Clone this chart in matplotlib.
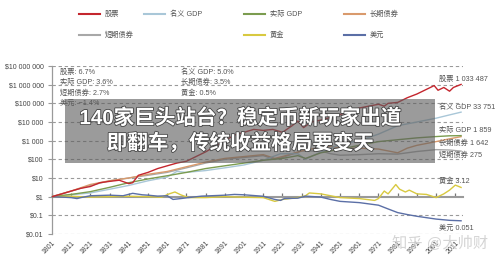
import matplotlib
matplotlib.use("Agg")
import matplotlib.pyplot as plt
import matplotlib.patheffects as pe
from matplotlib.lines import Line2D
from matplotlib.patches import Rectangle

plt.rcParams['font.family'] = ['Liberation Sans', 'Noto Sans CJK SC']

stocks_years = [1801, 1806, 1811, 1816, 1821, 1826, 1831, 1836, 1841, 1843, 1846, 1851, 1856, 1861, 1866,
                1871, 1876, 1881, 1886, 1891, 1896, 1901, 1906, 1911, 1916, 1921, 1926, 1929, 1932, 1936,
                1941, 1946, 1951, 1956, 1961, 1966, 1971, 1974, 1976, 1981, 1986, 1991, 1996, 2000, 2002,
                2005, 2008, 2010, 2014]
stocks = [1, 1.4, 2.0, 2.8, 3.5, 5.6, 6.6, 7.6, 5.0, 5.6, 14, 20, 32, 45, 63,
          79, 141, 251, 500, 1000, 2000, 2800, 4000, 3550, 4000, 2800, 6300, 11200, 5000, 10000,
          12600, 17800, 25100, 35500, 56200, 70800, 89100, 70800, 100000, 112000, 200000, 316000, 562000, 891000, 501000,
          708000, 447000, 708000, 1033487]

gdp_years = [1801, 1811, 1821, 1831, 1841, 1851, 1861, 1866, 1871, 1881, 1891, 1901, 1911, 1920, 1929,
             1933, 1941, 1951, 1961, 1971, 1981, 1991, 2001, 2008, 2014]
nominal_gdp = [1, 1.26, 1.58, 2.5, 4.0, 7.1, 11.2, 22.4, 20, 25, 35, 50, 89, 200, 200,
               100, 251, 631, 1000, 2239, 6310, 10000, 16000, 24000, 33751]

real_gdp_years = [1801, 1811, 1821, 1831, 1841, 1851, 1861, 1871, 1881, 1891, 1901, 1911, 1921, 1929, 1933,
                  1941, 1946, 1951, 1961, 1971, 1981, 1991, 2001, 2008, 2014]
real_gdp = [1, 1.32, 1.86, 3.16, 5.6, 8.9, 13.2, 20, 32, 45, 63, 89, 112, 158, 112,
            224, 282, 355, 562, 891, 1122, 1413, 1660, 1820, 1859]

bond_years = [1801, 1811, 1821, 1831, 1841, 1851, 1861, 1871, 1881, 1891, 1901, 1911, 1917, 1921, 1931,
              1941, 1946, 1951, 1961, 1971, 1981, 1986, 1991, 1996, 2001, 2008, 2014]
long_bonds = [1, 2.0, 4.5, 7.1, 10, 15.8, 22.4, 40, 71, 112, 141, 178, 112, 141, 282,
              447, 501, 398, 398, 355, 224, 398, 562, 708, 891, 1259, 1642]

bill_years = [1801, 1811, 1821, 1831, 1841, 1851, 1861, 1871, 1881, 1891, 1901, 1911, 1917, 1921, 1931,
              1941, 1946, 1951, 1961, 1971, 1981, 1991, 2001, 2008, 2014]
short_bills = [1, 2.0, 4.0, 7.1, 10, 14, 20, 35, 63, 100, 126, 158, 100, 126, 282,
               282, 200, 166, 178, 200, 191, 263, 331, 316, 275]

gold_years = [1801, 1811, 1821, 1831, 1841, 1851, 1858, 1862, 1865, 1868, 1872, 1881, 1891, 1901, 1911,
              1917, 1921, 1929, 1933, 1935, 1941, 1946, 1951, 1961, 1969, 1971, 1974, 1976, 1980, 1982,
              1985, 1987, 1991, 1996, 2001, 2005, 2008, 2011, 2014]
gold = [1, 1.05, 0.95, 1, 1.05, 1, 0.93, 1.41, 1.78, 1.26, 0.89, 0.89, 1.0, 0.93, 0.89,
        0.56, 0.71, 0.89, 1.12, 1.58, 1.41, 1.12, 0.89, 0.79, 0.63, 0.79, 2.0, 1.41, 4.47, 2.51,
        1.78, 2.24, 1.41, 1.32, 0.89, 1.41, 2.24, 4.17, 3.12]

dollar_years = [1801, 1806, 1811, 1814, 1816, 1821, 1831, 1838, 1843, 1848, 1851, 1856, 1861, 1864, 1868,
                1872, 1879, 1891, 1896, 1901, 1911, 1917, 1920, 1922, 1929, 1933, 1941, 1946, 1951, 1961,
                1971, 1976, 1981, 1986, 1991, 2001, 2008, 2014]
dollar = [1, 0.95, 0.89, 0.79, 0.89, 1.12, 1.2, 1.12, 1.51, 1.26, 1.2, 1.07, 1.12, 0.71, 0.79,
          0.89, 1.07, 1.2, 1.32, 1.26, 1.05, 0.71, 0.63, 0.79, 0.83, 1.07, 0.95, 0.71, 0.56, 0.48,
          0.35, 0.22, 0.14, 0.11, 0.089, 0.063, 0.054, 0.051]

names = ['股票', '名义 GDP', '实际 GDP', '长期债券', '短期债券', '黄金', '美元']
colors = ['#c4262e', '#a9c7d8', '#7b9c4f', '#d99a6c', '#a8a8a8', '#d8c940', '#5b6fa6']
cagr = ['6.7%', '5.0%', '3.6%', '3.5%', '2.7%', '0.5%', '\u22121.4%']
final_labels = ['1 033 487', '33 751', '1 859', '1 642', '275', '3.12', '0.051']

y_ticks = [0.01, 0.1, 1, 10, 100, 1000, 1e4, 1e5, 1e6, 1e7]
y_labels = ['$0.01', '$0.1', '$1', '$10', '$100', '$1 000', '$10 000', '$100 000', '$1 000 000', '$10 000 000']
x_ticks = list(range(1801, 2012, 10))

W, H = 500, 264


def px(x, y):
    return x / W, 1 - y / H


fig = plt.figure(figsize=(5, 2.64), dpi=100)
ax = fig.add_axes([52 / W, 1 - 234 / H, 411 / W, 168 / H])
ax.set_yscale('log')
ax.set_xlim(1801, 2015)
ax.set_ylim(0.01, 1e7)

grey = '#9a9a9a'
for t in y_ticks:
    if t != 1:
        ax.axhline(t, color=grey, lw=0.8, ls=(0, (3, 2.5)), zorder=1)

series = [(stocks_years, stocks), (gdp_years, nominal_gdp), (real_gdp_years, real_gdp),
          (bond_years, long_bonds), (bill_years, short_bills), (gold_years, gold), (dollar_years, dollar)]
order = [4, 3, 1, 2, 5, 6, 0]
for i in order:
    xs, ys = series[i]
    ax.plot(xs, ys, color=colors[i], lw=1.0, zorder=3)

ax.set_yticks(y_ticks)
ax.set_yticklabels(y_labels)
ax.yaxis.set_minor_locator(plt.NullLocator())
ax.tick_params(axis='y', length=3, width=0.8, color=grey, labelsize=5, labelcolor='#444444', pad=3)

ax.spines['top'].set_visible(False)
ax.spines['right'].set_visible(False)
ax.spines['left'].set_color(grey)
ax.spines['left'].set_linewidth(0.9)
ax.spines['bottom'].set_position(('data', 1))
ax.spines['bottom'].set_color(grey)
ax.spines['bottom'].set_linewidth(1.5)
ax.spines['bottom'].set_zorder(2)
ax.set_xticks(x_ticks)
ax.tick_params(axis='x', direction='in', length=3, width=0.9, color='#777777', labelbottom=False)

sec = ax.secondary_xaxis('bottom')
sec.set_xticks(x_ticks)
sec.set_xticklabels([str(y) for y in x_ticks], rotation=45, ha='right', va='top',
                    rotation_mode='anchor')
sec.tick_params(length=0, labelsize=5, labelcolor='#444444', pad=4)
sec.spines['bottom'].set_visible(False)

# legend at top
leg_pos = [(79, 14), (144, 14), (244, 14), (344, 14), (79, 35), (244, 35), (344, 35)]
for i, (lx, ly) in enumerate(leg_pos):
    x0, y0 = px(lx, ly)
    x1, _ = px(lx + 21, ly)
    fig.add_artist(Line2D([x0, x1], [y0, y0], color=colors[i], lw=1.5, transform=fig.transFigure))
    fig.text(*px(lx + 26, ly), names[i], fontsize=5.2, color='#555555', va='center', ha='left')

# growth rates in the upper left
rate_pos = [(60, 72), (181, 72), (60, 82), (181, 82), (60, 93), (181, 93), (60, 103)]
for i, (tx, ty) in enumerate(rate_pos):
    fig.text(*px(tx, ty), names[i] + ': ' + cagr[i], fontsize=5.2, color='#555555', va='center', ha='left')

# final values on the right
end_y = [79, 107, 130, 143, 155, 181, 228]
for i, ey in enumerate(end_y):
    fig.text(*px(439, ey), names[i] + ' ' + final_labels[i], fontsize=5.2, color='#555555',
             va='center', ha='left')

# headline banner
fig.add_artist(Rectangle(px(65, 163), 370 / W, 64 / H, transform=fig.transFigure,
                         facecolor='#5e5e5e', alpha=0.62, edgecolor='none', zorder=5))
shadow = [pe.withStroke(linewidth=1.2, foreground='#444444')]
fig.text(*px(240, 118), '140家巨头站台？稳定币新玩家出道', fontsize=14.8, fontweight='bold',
         color='white', ha='center', va='center', zorder=6, path_effects=shadow)
fig.text(*px(240, 143), '即翻车，传统收益格局要变天', fontsize=14.8, fontweight='bold',
         color='white', ha='center', va='center', zorder=6, path_effects=shadow)

# watermark
fig.text(*px(440, 243), '知乎 @大帅财', fontsize=11, color='#d0d0d0', ha='center', va='center',
         zorder=6, alpha=0.9)

fig.savefig('out.png', dpi=100)
